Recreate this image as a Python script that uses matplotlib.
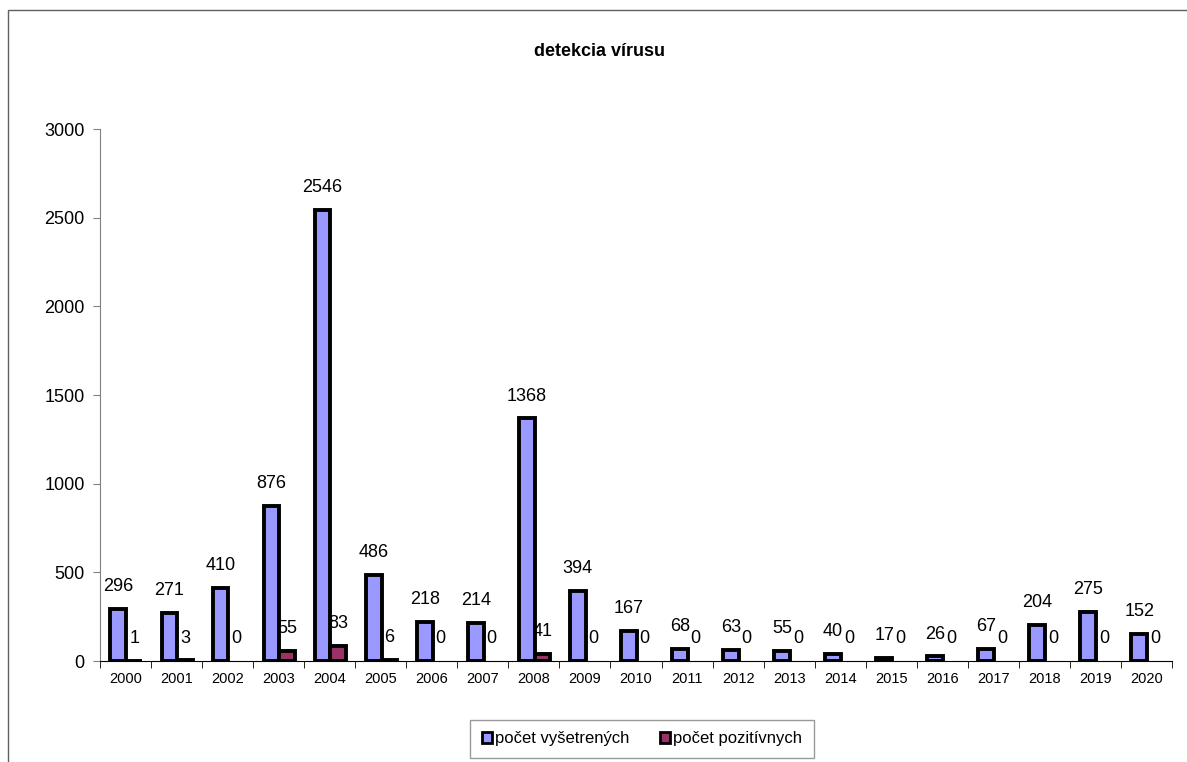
import numpy as np
import matplotlib.pyplot as plt
from matplotlib.patches import Rectangle

plt.rcParams['font.family'] = ['Liberation Sans', 'DejaVu Sans']

# dane
roky = [str(r) for r in range(2000, 2021)]
vysetrene = [296, 271, 410, 876, 2546, 486, 218, 214, 1368, 394, 167,
             68, 63, 55, 40, 17, 26, 67, 204, 275, 152]
pozitivne = [1, 3, 0, 55, 83, 6, 0, 0, 41, 0, 0,
             0, 0, 0, 0, 0, 0, 0, 0, 0, 0]

fig = plt.figure(figsize=(11.87, 7.62), dpi=100)
ax = fig.add_axes([100/1187, 1-661/762, 1072/1187, (661-129)/762])

x = np.arange(len(roky))
w = 0.31
b1 = ax.bar(x - 0.14, vysetrene, w, color='#9999FF', edgecolor='black',
            linewidth=2.8, label='počet vyšetrených')
b2 = ax.bar(x + 0.17, pozitivne, w, color='#993366', edgecolor='black',
            linewidth=2.8, label='počet pozitívnych')
# nulove stlpce sa nekreslia
for p, v in zip(b2.patches, pozitivne):
    if v == 0:
        p.set_linewidth(0)

ax.bar_label(b1, padding=10, fontsize=13)
ax.bar_label(b2, padding=10, fontsize=13)

ax.set_xlim(-0.5, len(roky) - 0.5)
ax.set_ylim(0, 3000)
ax.set_yticks(np.arange(0, 3001, 500))
ax.tick_params(axis='y', labelsize=13, length=5, color='#808080', pad=6)
ax.set_xticks(x)
ax.set_xticklabels(roky, fontsize=10.5)
ax.set_xticks(np.arange(-0.5, len(roky), 1), minor=True)
ax.tick_params(axis='x', which='major', length=0, pad=8)
ax.tick_params(axis='x', which='minor', length=5, color='black')

for s in ['top', 'right']:
    ax.spines[s].set_visible(False)
ax.spines['left'].set_color('#808080')
ax.spines['bottom'].set_color('black')
ax.spines['bottom'].set_zorder(3)

fig.text(600/1187, 1-52/762, 'detekcia vírusu', ha='center', va='center',
         fontsize=13, fontweight='bold')

leg = fig.legend(handles=[b1, b2], loc='center', bbox_to_anchor=(642/1187, 1-739/762),
                 ncol=2, frameon=True, fancybox=False, fontsize=12,
                 handlelength=0.6, handleheight=0.6, handletextpad=0.2,
                 columnspacing=1.8, borderpad=0.7)
leg.get_frame().set_edgecolor('#808080')
leg.get_frame().set_linewidth(1.0)
for h in leg.legend_handles:
    h.set_linewidth(2.0)

# ramik okolo grafu
fig.patches.append(Rectangle((8/1187, -0.1), 1.2, 1 - 10/762 + 0.1,
                             transform=fig.transFigure, fill=False,
                             edgecolor='#606060', linewidth=1.0))

fig.savefig('out.png', dpi=100)
